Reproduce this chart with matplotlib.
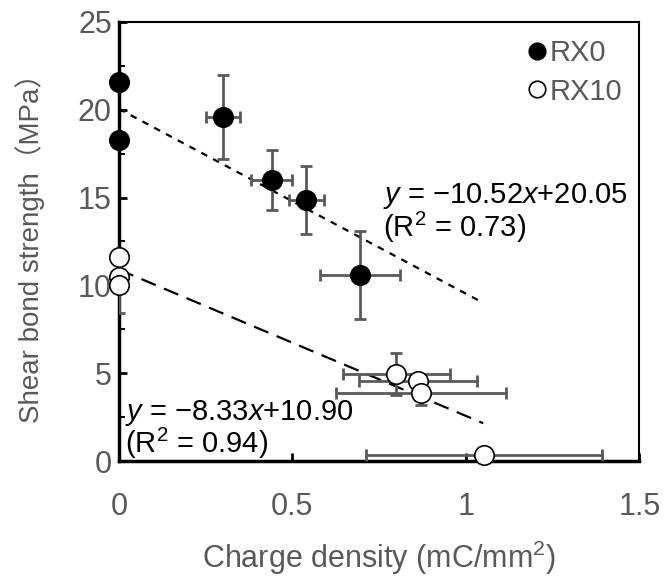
import matplotlib.pyplot as plt
from matplotlib.ticker import MultipleLocator
import numpy as np

# --- Data ---
rx0_x    = [0.0, 0.0, 0.30, 0.44, 0.54, 0.695]
rx0_y    = [21.6, 18.3, 19.6, 16.0, 14.85, 10.6]
rx0_xerr = [0.0, 0.0, 0.05, 0.058, 0.05, 0.114]
rx0_yerr = [0.0, 0.0, 2.4, 1.7, 1.95, 2.5]

rx10_x    = [0.0, 0.0, 0.0, 0.80, 0.862, 0.871, 1.053]
rx10_y    = [11.6, 10.45, 10.0, 4.95, 4.55, 3.9, 0.35]
rx10_xerr = [0.0, 0.0, 0.0, 0.153, 0.17, 0.245, 0.34]
rx10_yerr = [0.0, 0.0, 1.6, 1.2, 0.0, 0.7, 0.0]

fit_rx0  = (-10.52, 20.05)
fit_rx10 = (-8.33, 10.90)
fit_xmax = 1.05

x_ticks  = [0, 0.5, 1, 1.5]
x_labels = ['0', '0.5', '1', '1.5']

GREY = '#595959'
FONT = ['Liberation Sans', 'Noto Sans CJK JP', 'DejaVu Sans']
plt.rcParams['font.family'] = FONT
plt.rcParams['mathtext.fontset'] = 'custom'
plt.rcParams['mathtext.rm'] = 'Liberation Sans'
plt.rcParams['mathtext.it'] = 'Liberation Sans:italic'

fig = plt.figure(figsize=(6.68, 5.77), dpi=100)
ax = fig.add_axes([0.178, 0.201, 0.779, 0.761])

# --- Trend lines ---
xs = np.array([0.0, fit_xmax])
ax.plot(xs, fit_rx0[0] * xs + fit_rx0[1], color='black', lw=1.6,
        linestyle=(0, (3, 3)), zorder=2)
ax.plot(xs, fit_rx10[0] * xs + fit_rx10[1], color='black', lw=1.6,
        linestyle=(0, (7, 4)), zorder=2)

# --- Error bars + points ---
ax.errorbar(rx0_x, rx0_y, xerr=rx0_xerr, yerr=rx0_yerr, fmt='none',
            ecolor=GREY, elinewidth=2, capsize=4.5, capthick=2, zorder=3)
ax.errorbar(rx10_x, rx10_y, xerr=rx10_xerr, yerr=rx10_yerr, fmt='none',
            ecolor=GREY, elinewidth=2, capsize=4.5, capthick=2, zorder=3)
ax.plot(rx0_x, rx0_y, 'o', ms=14, mfc='black', mec='black', mew=1.2,
        linestyle='none', label='RX0', zorder=4, clip_on=False)
ax.plot(rx10_x, rx10_y, 'o', ms=14, mfc='white', mec='black', mew=1.2,
        linestyle='none', label='RX10', zorder=4, clip_on=False)

# --- Equations ---
ax.text(0.76, 15.1, r'$y$ = −10.52$x$+20.05', fontsize=21, va='center', ha='left')
ax.text(0.76, 13.3, '(R$^2$ = 0.73)', fontsize=21, va='center', ha='left')
ax.text(0.017, 2.75, r'$y$ = −8.33$x$+10.90', fontsize=21, va='center', ha='left')
ax.text(0.017, 1.0, '(R$^2$ = 0.94)', fontsize=21, va='center', ha='left')

# --- Axes ---
ax.set_xlim(0, 1.5)
ax.set_ylim(0, 25)
ax.set_xticks(x_ticks, x_labels)
ax.yaxis.set_major_locator(MultipleLocator(5))
ax.yaxis.set_minor_locator(MultipleLocator(2.5))
ax.tick_params(axis='both', which='major', direction='in', length=6, width=2,
               labelsize=22, labelcolor=GREY)
ax.tick_params(axis='x', which='major', pad=22)
ax.tick_params(axis='y', which='major', pad=5)
ax.tick_params(axis='y', which='minor', direction='in', length=4, width=1.5)
for s in ax.spines.values():
    s.set_linewidth(1.5)
ax.spines['left'].set_linewidth(2.5)
ax.spines['bottom'].set_linewidth(2.5)

ax.set_xlabel('Charge density (mC/mm$^2$)', fontsize=22, color=GREY, labelpad=12)
ax.set_ylabel('Shear bond strength（MPa）', fontsize=20, color=GREY, labelpad=24)

# --- Legend ---
leg = ax.legend(loc='upper right', frameon=False, fontsize=21, handletextpad=-0.1,
                markerscale=0.85, borderaxespad=0.2, labelspacing=0.35,
                handlelength=1.0)
for t in leg.get_texts():
    t.set_color(GREY)

plt.savefig('out.png', dpi=100)
